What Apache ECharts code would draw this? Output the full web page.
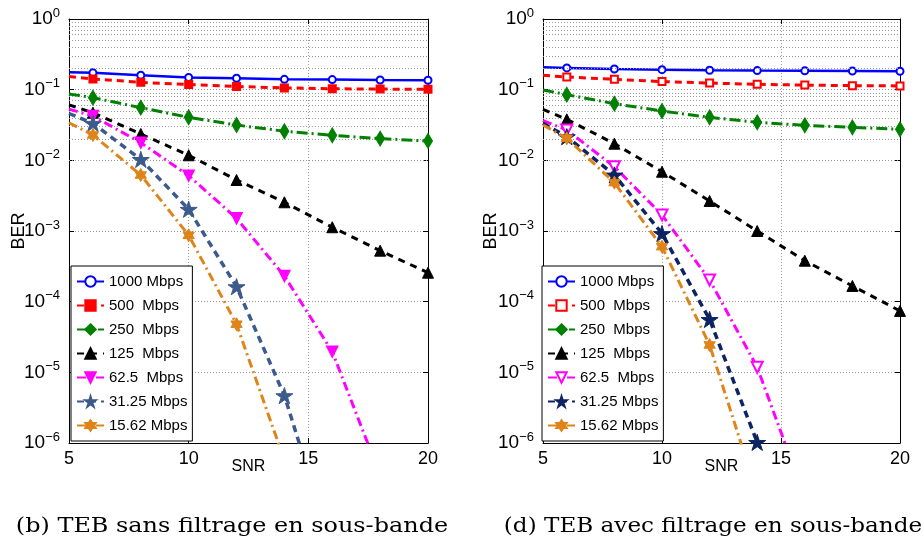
<!DOCTYPE html>
<html><head><meta charset="utf-8">
<script src="https://cdn.jsdelivr.net/npm/echarts@6/dist/echarts.min.js"></script>
<style>html,body{margin:0;padding:0;background:#fff}#c{width:924px;height:549px}</style>
</head><body><div id="c"></div>
<script>
// ---- data ----
const snr = [5, 6, 8, 10, 12, 14, 16, 18, 20];
const xTicks = [5, 10, 15, 20];
const yTickExponents = [0, -1, -2, -3, -4, -5, -6];
const seriesNames = ['1000 Mbps', '500  Mbps', '250  Mbps', '125  Mbps', '62.5  Mbps', '31.25 Mbps', '15.62 Mbps'];
const captions = ['(b) TEB sans filtrage en sous-bande', '(d) TEB avec filtrage en sous-bande'];

// (b) sans filtrage
const b1000 = [0.177, 0.173, 0.160, 0.149, 0.145, 0.140, 0.139, 0.137, 0.136];
const b500  = [0.153, 0.142, 0.127, 0.118, 0.111, 0.106, 0.103, 0.102, 0.101];
const b250  = [0.087, 0.077, 0.0556, 0.0406, 0.0316, 0.0258, 0.0226, 0.0203, 0.0188];
const b125  = [0.061, 0.0472, 0.0236, 0.0118, 0.00527, 0.00255, 0.00113, 5.27e-4, 2.57e-4];
const b62   = [0.053, 0.0424, 0.0178, 0.00607, 0.00151, 2.31e-4, 1.96e-5, 3.5e-7];
const b31   = [0.046, 0.0334, 0.0103, 0.00203, 1.63e-4, 4.68e-6, 3.2e-8];
const b15   = [0.034, 0.0228, 0.0062, 8.7e-4, 4.8e-5, 5.7e-7];

// (d) avec filtrage
const d1000 = [0.207, 0.203, 0.196, 0.192, 0.188, 0.186, 0.185, 0.184, 0.182];
const d500  = [0.160, 0.151, 0.140, 0.130, 0.124, 0.119, 0.116, 0.114, 0.113];
const d250  = [0.099, 0.085, 0.0633, 0.0499, 0.0406, 0.0345, 0.0313, 0.0293, 0.0275];
const d125  = [0.0527, 0.038, 0.0172, 0.0069, 0.00266, 1.0e-3, 3.8e-4, 1.67e-4, 7.4e-5];
const d62   = [0.0364, 0.0269, 0.0081, 0.00169, 2.03e-4, 1.18e-5, 1.7e-7];
const d31   = [0.0334, 0.0216, 0.0062, 9.2e-4, 5.6e-5, 1.02e-6];
const d15   = [0.0316, 0.0205, 0.00483, 6.0e-4, 2.44e-5, 1.9e-7];

// ---- styles ----
const STAR = 'path://M0,-10L2.245,-3.09L9.511,-3.09L3.633,1.18L5.878,8.09L0,3.82L-5.878,8.09L-3.633,1.18L-9.511,-3.09L-2.245,-3.09Z';
const HEX = 'path://M0,-10L2.887,-5L8.66,-5L5.774,0L8.66,5L2.887,5L0,10L-2.887,5L-8.66,5L-5.774,0L-8.66,-5L-2.887,-5Z';

function styleFor(k, right) {
  const s = [
    {color:'#0000ff', type:'solid', width:2.5, symbol:'emptyCircle', size:7, bw:1.6, rot:0},
    {color:'#ff0000', type:[7,5], width:3, symbol: right ? 'emptyRect' : 'rect', size:7, bw:2, rot:0},
    {color:'#008000', type:[11,4,2,4], width:3, symbol:'diamond', size:[9,15], bw:1, rot:0},
    {color:'#000000', type:[7,6], width:3, symbol:'triangle', size:11, bw:1, rot:0},
    {color:'#ff00ff', type:[9,4,2,4], width:3, symbol: right ? 'emptyTriangle' : 'triangle', size:11, bw:1.5, rot:180},
    {color: right ? '#0d2463' : '#3c5a8c', type:[7,5], width:3.5, symbol:STAR, size:17, bw:1, rot:0},
    {color:'#df8419', type:[9,4,2,4], width:3, symbol:HEX, size:13, bw:1, rot:0}
  ];
  return s[k];
}

function mk(k, arr, g) {
  const st = styleFor(k, g === 1);
  const data = arr.map((v, i) => i === 0 ? {value:[snr[i], v], symbol:'none'} : [snr[i], v]);
  return {
    type:'line', name: seriesNames[k] + (g === 1 ? ' ' : ''),
    xAxisIndex: g * 2, yAxisIndex: g * 2,
    data, symbol: st.symbol, symbolSize: st.size, symbolRotate: st.rot, symbolKeepAspect: true,
    showAllSymbol: true, clip: true,
    lineStyle: {color: st.color, type: st.type, width: st.width},
    itemStyle: {color: st.color, borderColor: st.color, borderWidth: st.bw},
    emphasis: {disabled: true}, z: 3 + k
  };
}

const minorVals = [];
for (let e = -6; e < 0; e++) for (let m = 2; m <= 9; m++) minorVals.push({yAxis: m * Math.pow(10, e)});

function minorSeries(g) {
  return {
    type:'line', xAxisIndex: g*2, yAxisIndex: g*2, data: [], silent: true, z: 1,
    markLine: {silent: true, symbol:['none','none'], label:{show:false}, animation:false,
      lineStyle:{color:'#9a9a9a', type:[1,2], width:1}, emphasis:{disabled:true}, data: minorVals}
  };
}

const grids = [
  {left: 69, top: 19, width: 359, height: 424},
  {left: 543, top: 19, width: 357, height: 424}
];

const xAxes = [], yAxes = [];
grids.forEach((gr, g) => {
  xAxes.push({
    type:'value', gridIndex: g, min: xTicks[0], max: xTicks[xTicks.length-1], interval: 5, position:'bottom',
    name:'SNR', nameLocation:'middle', nameGap: 16, nameMoveOverlap: false,
    nameTextStyle:{fontFamily:'Liberation Sans', fontSize:16, color:'#000', verticalAlign:'top'},
    axisLine:{show:true, lineStyle:{color:'#000', width:1}},
    axisTick:{show:true, inside:true, length:5, lineStyle:{color:'#000'}},
    axisLabel:{fontFamily:'Liberation Sans', fontSize:18, color:'#000', margin:7},
    splitLine:{show:true, lineStyle:{color:'#9a9a9a', type:[1,2], width:1}}
  });
  xAxes.push({
    type:'value', gridIndex: g, min: 5, max: 20, interval: 5, position:'top',
    axisLine:{show:true, lineStyle:{color:'#000', width:1}},
    axisTick:{show:true, inside:true, length:5, lineStyle:{color:'#000'}},
    axisLabel:{show:false}, splitLine:{show:false}
  });
  yAxes.push({
    type:'log', logBase:10, gridIndex: g, min: 1e-6, max: 1, interval: 1, position:'left',
    name:'BER', nameLocation:'middle', nameGap: g === 0 ? 41 : 43, nameRotate: 90, nameMoveOverlap: false,
    nameTextStyle:{fontFamily:'Liberation Sans', fontSize:18, color:'#000'},
    axisLine:{show:true, lineStyle:{color:'#000', width:1}},
    axisTick:{show:true, inside:true, length:5, lineStyle:{color:'#000'}},
    axisLabel:{margin: 9, formatter: v => {
        const e = Math.round(Math.log10(v));
        return '{b|10}{s|' + (e < 0 ? '\u2212' + (-e) : e) + '}';
      },
      rich:{b:{fontFamily:'Liberation Sans', fontSize:19, color:'#000'},
            s:{fontFamily:'Liberation Sans', fontSize:13, color:'#000', padding:[0,0,12,0]}}},
    splitLine:{show:true, lineStyle:{color:'#9a9a9a', type:[1,2], width:1}}
  });
  yAxes.push({
    type:'log', logBase:10, gridIndex: g, min: 1e-6, max: 1, interval: 1, position:'right',
    axisLine:{show:true, lineStyle:{color:'#000', width:1}},
    axisTick:{show:true, inside:true, length:5, lineStyle:{color:'#000'}},
    axisLabel:{show:false}, splitLine:{show:false}
  });
});

const series = [
  minorSeries(0), minorSeries(1),
  mk(0, b1000, 0), mk(1, b500, 0), mk(2, b250, 0), mk(3, b125, 0), mk(4, b62, 0), mk(5, b31, 0), mk(6, b15, 0),
  mk(0, d1000, 1), mk(1, d500, 1), mk(2, d250, 1), mk(3, d125, 1), mk(4, d62, 1), mk(5, d31, 1), mk(6, d15, 1)
];

function legendFor(g, left) {
  return {
    orient:'vertical', left: left, top: 266,
    data: seriesNames.map(n => n + (g === 1 ? ' ' : '')),
    formatter: n => n.replace(/ $/, ''),
    backgroundColor:'#fff', borderColor:'#000', borderWidth:1, borderRadius:0,
    padding:[8, 5, 8, 5], itemGap: 9, itemWidth: 27, itemHeight: 13,
    textStyle:{fontFamily:'Liberation Sans', fontSize:15, color:'#000'},
    selectedMode: false, z: 20
  };
}

const chart = echarts.init(document.getElementById('c'), null, {renderer:'canvas'});
chart.setOption({
  animation: false,
  backgroundColor:'#fff',
  grid: grids,
  xAxis: xAxes,
  yAxis: yAxes,
  legend: [legendFor(0, 71), legendFor(1, 542)],
  series,
  graphic: [
    {type:'text', x: 232, y: 527, scaleX: 1.14, originX: 0, originY: 0,
     style:{text: captions[0], font:'21px "DejaVu Serif"', fill:'#000', align:'center', verticalAlign:'middle'}},
    {type:'text', x: 713, y: 527, scaleX: 1.1, originX: 0, originY: 0,
     style:{text: captions[1], font:'21px "DejaVu Serif"', fill:'#000', align:'center', verticalAlign:'middle'}}
  ]
});
</script>
</body></html>
